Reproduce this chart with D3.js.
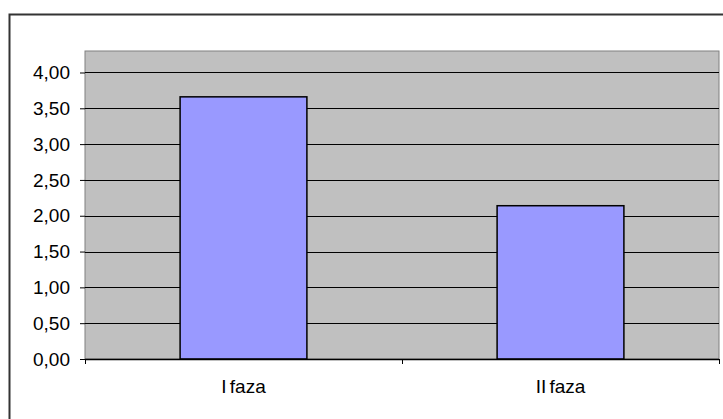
<!DOCTYPE html>
<html>
<head>
<meta charset="utf-8">
<script src="https://cdn.jsdelivr.net/npm/d3@7"></script>
<style>
  body { margin: 0; background: #fff; }
  svg { display: block; font-family: Arial, "Liberation Sans", sans-serif; }
</style>
</head>
<body>
<div id="chart"></div>
<script>
// data
const categories = ["I faza", "II faza"];
const values = [3.66, 2.14];
const yTicks = [0, 0.5, 1, 1.5, 2, 2.5, 3, 3.5, 4];

const width = 723, height = 419;
const plot = { left: 85, right: 719, top: 51, bottom: 359 };

let svg = d3.select("#chart")
    .append("svg")
    .attr("width", width)
    .attr("height", height);

// outer chart border (runs off the picture on right and bottom)
svg.append("rect")
    .attr("x", 9.5)
    .attr("y", 14.5)
    .attr("width", 730)
    .attr("height", 430)
    .attr("fill", "none")
    .attr("stroke", "#333")
    .attr("stroke-width", 2);

let x = d3.scaleBand()
    .domain(categories)
    .range([plot.left, plot.right])
    .paddingInner(0.6)
    .paddingOuter(0.3);

let y = d3.scaleLinear()
    .domain([0, 4.3])
    .range([plot.bottom, plot.top]);

// plot area
svg.append("rect")
    .attr("x", plot.left)
    .attr("y", plot.top)
    .attr("width", plot.right - plot.left)
    .attr("height", plot.bottom - plot.top)
    .attr("fill", "#c0c0c0")
    .attr("stroke", "#808080")
    .attr("stroke-width", 1);

// gridlines
svg.selectAll(".grid")
    .data(yTicks.filter(d => d > 0))
    .join("line")
    .attr("class", "grid")
    .attr("x1", plot.left)
    .attr("x2", plot.right)
    .attr("y1", d => Math.round(y(d)) + 0.5)
    .attr("y2", d => Math.round(y(d)) + 0.5)
    .attr("stroke", "#000")
    .attr("stroke-width", 1);

// bars
svg.selectAll(".bar")
    .data(values)
    .join("rect")
    .attr("class", "bar")
    .attr("x", (d, i) => x(categories[i]))
    .attr("y", d => y(d))
    .attr("width", x.bandwidth())
    .attr("height", d => plot.bottom - y(d))
    .attr("fill", "#9999ff")
    .attr("stroke", "#000")
    .attr("stroke-width", 1.5);

// y axis
let yAxis = d3.axisLeft(y)
    .tickValues(yTicks)
    .tickSize(5)
    .tickPadding(10)
    .tickFormat(d => d3.format(".2f")(d).replace(".", ","));

let gy = svg.append("g")
    .attr("transform", `translate(${plot.left},0)`)
    .call(yAxis);
gy.select(".domain").remove();
gy.selectAll("line").attr("stroke", "#000");
gy.selectAll("text")
    .attr("fill", "#000")
    .style("font-size", "19px");

// x axis: ticks at band boundaries
let boundaries = [plot.left].concat(categories.map(c => x(c) + x.bandwidth() + x.step() * 0.3));
let gx = svg.append("g");
gx.append("line")
    .attr("x1", plot.left)
    .attr("x2", plot.right)
    .attr("y1", plot.bottom + 0.5)
    .attr("y2", plot.bottom + 0.5)
    .attr("stroke", "#000")
    .attr("stroke-width", 1.5);
gx.selectAll(".xtick")
    .data(boundaries)
    .join("line")
    .attr("class", "xtick")
    .attr("x1", d => Math.round(d) + 0.5)
    .attr("x2", d => Math.round(d) + 0.5)
    .attr("y1", plot.bottom)
    .attr("y2", plot.bottom + 5)
    .attr("stroke", "#000");
gx.selectAll(".xlabel")
    .data(categories)
    .join("text")
    .attr("class", "xlabel")
    .attr("x", d => x(d) + x.bandwidth() / 2)
    .attr("y", 393)
    .attr("text-anchor", "middle")
    .style("font-size", "19px")
    .style("word-spacing", "-2px")
    .text(d => d);
</script>
</body>
</html>
